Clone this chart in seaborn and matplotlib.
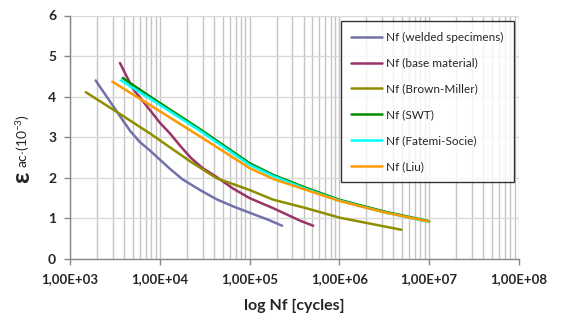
import numpy as np
import seaborn as sns
import matplotlib
matplotlib.use("Agg")
import matplotlib.pyplot as plt
from matplotlib.ticker import FixedLocator, NullFormatter

# cycles to failure (N) and strain amplitude (x10^-3)
welded_n = [1930, 2600, 3600, 4700, 6000, 7700, 1e4, 1.3e4, 1.8e4, 2.8e4, 4.3e4, 6.5e4, 1e5, 1.6e5, 2.3e5]
welded_eps = [4.40, 3.98, 3.52, 3.15, 2.88, 2.68, 2.45, 2.22, 1.96, 1.70, 1.47, 1.30, 1.14, 0.97, 0.82]

base_n = [3600, 5000, 7700, 1e4, 1.29e4, 1.7e4, 2.2e4, 3e4, 4.3e4, 6.5e4, 1e5, 1.84e5, 3.6e5, 5.1e5]
base_eps = [4.83, 4.20, 3.68, 3.36, 3.10, 2.78, 2.50, 2.24, 2.02, 1.74, 1.50, 1.25, 0.95, 0.82]

bm_n = [1500, 3450, 7700, 2.2e4, 4.3e4, 1e5, 1.84e5, 4.3e5, 1e6, 4.9e6]
bm_eps = [4.11, 3.60, 3.10, 2.40, 1.99, 1.70, 1.46, 1.25, 1.02, 0.72]

swt_n = [3860, 7700, 2.8e4, 1e5, 1.84e5, 4.3e5, 1e6, 3.16e6, 1e7]
swt_eps = [4.46, 4.01, 3.20, 2.36, 2.07, 1.75, 1.46, 1.17, 0.93]

fs_n = [3700, 7700, 2.8e4, 1e5, 1.84e5, 4.3e5, 1e6, 3.16e6, 1e7]
fs_eps = [4.40, 3.96, 3.16, 2.32, 2.04, 1.72, 1.44, 1.15, 0.91]

liu_n = [2960, 7700, 2.8e4, 1e5, 1.84e5, 4.3e5, 1e6, 3.16e6, 1e7]
liu_eps = [4.37, 3.80, 3.02, 2.24, 1.97, 1.70, 1.43, 1.15, 0.92]

labels = ["Nf (welded specimens)", "Nf (base material)", "Nf (Brown-Miller)",
          "Nf (SWT)", "Nf (Fatemi-Socie)", "Nf (Liu)"]
colors = ["#7272aa", "#9a3468", "#8e8e00", "#008a00", "#00ffff", "#ff9900"]

xtick_vals = [1e3, 1e4, 1e5, 1e6, 1e7, 1e8]
xtick_labels = ["1,00E+03", "1,00E+04", "1,00E+05", "1,00E+06", "1,00E+07", "1,00E+08"]

sns.set_style("white")
plt.rcParams['font.family'] = ['Lato', 'DejaVu Sans']
plt.rcParams['mathtext.fontset'] = 'custom'
plt.rcParams['mathtext.rm'] = 'Lato'

fig = plt.figure(figsize=(5.61, 3.26), dpi=100)
ax = fig.add_axes([70 / 561, 1 - 259 / 326, 449 / 561, 243.5 / 326])
ax.set_xscale('log')

series = [(welded_n, welded_eps), (base_n, base_eps), (bm_n, bm_eps),
          (swt_n, swt_eps), (fs_n, fs_eps), (liu_n, liu_eps)]
for (n, e), lab, c in zip(series, labels, colors):
    sns.lineplot(x=n, y=e, ax=ax, color=c, lw=1.8, label=lab, sort=False, estimator=None)

ax.set_xlim(1e3, 1e8)
ax.set_ylim(0, 6)

# grid: every decade plus the 2..9 subdivisions
minor = [m * 10 ** k for k in range(3, 8) for m in range(2, 10)]
ax.xaxis.set_major_locator(FixedLocator(xtick_vals))
ax.xaxis.set_minor_locator(FixedLocator(minor))
ax.xaxis.set_minor_formatter(NullFormatter())
ax.set_xticklabels(xtick_labels, fontweight='bold', fontsize=9.5)
ax.set_yticks(range(0, 7))
ax.set_yticklabels([str(v) for v in range(0, 7)], fontweight='bold', fontsize=10)
ax.grid(True, which='major', axis='y', color='#d9d9d9', lw=1)
ax.grid(True, which='both', axis='x', color='#c4c4c4', lw=1)
ax.tick_params(axis='both', which='major', direction='out', length=4, width=1,
               color='#888888', pad=6, bottom=True, left=True)
ax.tick_params(axis='x', which='minor', length=0)

for side in ['top', 'right']:
    ax.spines[side].set_visible(False)
for side in ['left', 'bottom']:
    ax.spines[side].set_color('#888888')
    ax.spines[side].set_linewidth(1)

ax.set_xlabel('log Nf [cycles]', fontweight='bold', fontsize=11.5, labelpad=10)
ax.set_ylabel('')

fig.text(22 / 561, 1 - 177 / 326, 'ε', rotation=90, ha='center', va='center',
         fontsize=18, fontweight='bold')
fig.text(23 / 561, 1 - 168 / 326, r'ac$\cdot$(10$^{\mathregular{-3}}$)', rotation=90,
         ha='center', va='bottom', fontsize=10)

leg = ax.legend(loc='upper right', bbox_to_anchor=(0.988, 0.976), frameon=True,
                fancybox=False, edgecolor='black', fontsize=8.5, labelspacing=1.25,
                handlelength=2.6, handletextpad=0.3, borderpad=0.9, borderaxespad=0)
leg.get_frame().set_linewidth(1)
for line in leg.get_lines():
    line.set_linewidth(1.8)

fig.savefig('out.png', dpi=100)
